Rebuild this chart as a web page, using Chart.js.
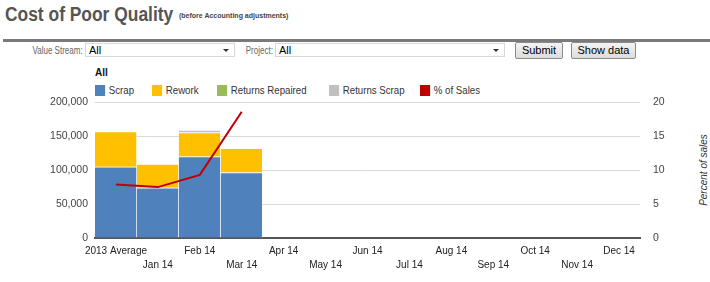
<!DOCTYPE html>
<html>
<head>
<meta charset="utf-8">
<script src="https://cdn.jsdelivr.net/npm/chart.js@4.4.1/dist/chart.umd.min.js"></script>
<style>
  body { margin: 0; width: 710px; height: 282px; background: #fff; font-family: Arial, "Liberation Sans", sans-serif; position: relative; overflow: hidden; }
  .abs { position: absolute; white-space: nowrap; }
  #title { left: 5px; top: 3px; font-size: 20px; font-weight: bold; color: #555; transform: scaleX(0.87); transform-origin: left top; }
  #subtitle { left: 179px; top: 12px; font-size: 7px; font-weight: bold; color: #444; }
  #rule { left: 3px; top: 39px; width: 707px; height: 3px; background: #7a7a7a; }
  .lbl { font-size: 10px; color: #666; top: 45px; transform: scaleX(0.8); transform-origin: right top; text-align: right; }
  .sel { top: 43px; height: 14px; border: 1px solid #d8d8d8; background: #fff; font-size: 11px; color: #000; line-height: 13px; padding-left: 3px; box-sizing: border-box; }
  .sel .arrow { position: absolute; right: 5px; top: 5px; width: 0; height: 0; border-left: 3px solid transparent; border-right: 3px solid transparent; border-top: 3px solid #333; }
  .btn { top: 42px; height: 17px; border: 1px solid #8c8c8c; border-radius: 2px; background: linear-gradient(#f4f4f4, #dcdcdc); font-size: 11px; color: #000; line-height: 15px; text-align: center; box-sizing: border-box; }
  #allLbl { left: 95px; top: 67px; font-size: 10px; font-weight: bold; color: #111; }
  .leg { top: 84px; font-size: 10.5px; color: #333; line-height: 12px; transform: scaleX(0.92); transform-origin: left top; }
  .leg span.sw { display: inline-block; width: 11px; height: 11px; vertical-align: -2px; margin-right: 4px; }
  #ytitle2 { left: 703px; top: 170px; font-size: 10px; font-style: italic; color: #333; transform: translate(-50%, -50%) rotate(-90deg); }
  #wrap { position: absolute; left: 0; top: 83px; width: 710px; height: 199px; }
</style>
</head>
<body>
<div class="abs" id="title">Cost of Poor Quality</div>
<div class="abs" id="subtitle">(before Accounting adjustments)</div>
<div class="abs" id="rule"></div>

<div class="abs lbl" style="right:627px;">Value Stream:</div>
<div class="abs sel" style="left:85px;width:150px;">All<span class="arrow"></span></div>
<div class="abs lbl" style="right:437px;">Project:</div>
<div class="abs sel" style="left:275px;width:230px;">All<span class="arrow"></span></div>
<div class="abs btn" style="left:515px;width:48px;">Submit</div>
<div class="abs btn" style="left:571px;width:65px;">Show data</div>

<div class="abs" id="allLbl">All</div>
<div class="abs leg" style="left:95px;"><span class="sw" style="background:#4f81bd"></span>Scrap</div>
<div class="abs leg" style="left:152px;"><span class="sw" style="background:#ffc000"></span>Rework</div>
<div class="abs leg" style="left:217px;"><span class="sw" style="background:#9bbb59"></span>Returns Repaired</div>
<div class="abs leg" style="left:329px;"><span class="sw" style="background:#c0c0c0"></span>Returns Scrap</div>
<div class="abs leg" style="left:420px;"><span class="sw" style="background:#c00000"></span>% of Sales</div>
<div class="abs" id="ytitle2">Percent of sales</div>

<div id="wrap"><canvas id="chart"></canvas></div>

<script>
const months = ['2013 Average', 'Jan 14', 'Feb 14', 'Mar 14', 'Apr 14', 'May 14', 'Jun 14',
                'Jul 14', 'Aug 14', 'Sep 14', 'Oct 14', 'Nov 14', 'Dec 14'];
const scrap = [105000, 74000, 120000, 96500, null, null, null, null, null, null, null, null, null];
const rework = [52000, 35000, 35500, 35500, null, null, null, null, null, null, null, null, null];
const returnsRepaired = [0, 0, 0, 0, null, null, null, null, null, null, null, null, null];
const returnsScrap = [0, 0, 3500, 0, null, null, null, null, null, null, null, null, null];
const pctOfSales = [7.9, 7.5, 9.3, 18.6, null, null, null, null, null, null, null, null, null];
const costTicks = [0, 50000, 100000, 150000, 200000];
const pctTicks = [0, 5, 10, 15, 20];

// alternate labels between two rows so they don't overlap
const xLabels = months.map((m, i) => i % 2 === 0 ? [m, ''] : ['', m]);

const tickFont = { family: 'Arial', size: 10, lineHeight: 1.4 };

function barSet(label, data, color) {
    return {
        type: 'bar',
        label: label,
        data: data,
        backgroundColor: color,
        borderColor: 'rgba(255,255,255,0.6)',
        borderWidth: { top: 1, right: 1, left: 0, bottom: 0 },
        borderSkipped: false,
        yAxisID: 'y',
        stack: 'cost',
        barPercentage: 1,
        categoryPercentage: 1,
        order: 2
    };
}

const ctx = document.getElementById('chart').getContext('2d');
new Chart(ctx, {
    data: {
        labels: xLabels,
        datasets: [
            {
                type: 'line',
                label: '% of Sales',
                data: pctOfSales,
                borderColor: '#c00000',
                borderWidth: 2,
                pointRadius: 0,
                tension: 0,
                yAxisID: 'y1',
                order: 1
            },
            barSet('Scrap', scrap, '#4f81bd'),
            barSet('Rework', rework, '#ffc000'),
            barSet('Returns Repaired', returnsRepaired, '#9bbb59'),
            barSet('Returns Scrap', returnsScrap, '#c0c0c0')
        ]
    },
    options: {
        responsive: true,
        maintainAspectRatio: false,
        animation: false,
        layout: { padding: { top: 7, right: 0, left: 0, bottom: 0 } },
        plugins: {
            legend: { display: false },
            tooltip: { enabled: false }
        },
        scales: {
            x: {
                stacked: true,
                grid: { display: false },
                border: { color: '#555', width: 2 },
                ticks: { color: '#222', font: tickFont, maxRotation: 0, minRotation: 0, autoSkip: false, padding: -2 },
                afterFit: scale => { scale.height = 44; }
            },
            y: {
                stacked: true,
                position: 'left',
                min: 0,
                max: 200000,
                afterBuildTicks: scale => { scale.ticks = costTicks.map(v => ({ value: v })); },
                grid: { color: '#d9d9d9', drawTicks: false },
                border: { display: false },
                ticks: {
                    color: '#444', font: { family: 'Arial', size: 10.5 }, padding: 7,
                    callback: v => v.toLocaleString('en-US')
                },
                afterFit: scale => { scale.width = 95; }
            },
            y1: {
                position: 'right',
                min: 0,
                max: 20,
                afterBuildTicks: scale => { scale.ticks = pctTicks.map(v => ({ value: v })); },
                grid: { drawOnChartArea: false, drawTicks: false },
                border: { display: false },
                ticks: { color: '#444', font: { family: 'Arial', size: 10.5 }, padding: 13 },
                afterFit: scale => { scale.width = 70; }
            }
        }
    }
});
</script>
</body>
</html>
